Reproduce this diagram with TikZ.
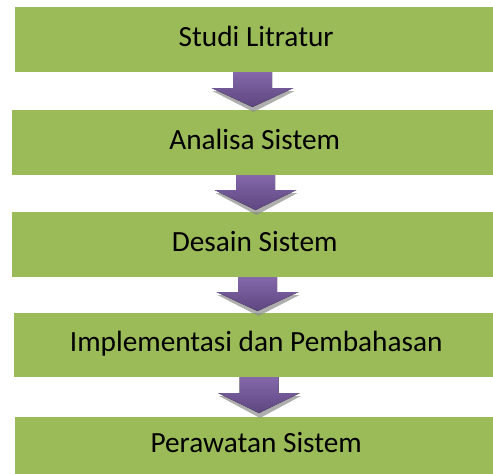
\documentclass[tikz,border=0pt]{standalone}
\usepackage{fontspec}
\setmainfont{Carlito}
\definecolor{boxgreen}{HTML}{9BBB59}
\definecolor{arrtop}{HTML}{8468AA}
\definecolor{arrbot}{HTML}{5E4680}
\tikzset{
  stepbox/.style={rectangle, fill=boxgreen, draw=none, inner sep=0pt, anchor=north west,
    font=\fontsize{29.3}{35}\selectfont, text=black, text height=20pt, text depth=7pt},
  downarrow/.style={top color=arrtop, bottom color=arrbot, draw=none},
  arrshadow/.style={fill=black!45, opacity=0.7, draw=none}
}
\newcommand{\flowarr}[4]{% x, top y, head top y, tip y
  \fill[arrshadow] (#1-40,#3+3) -- (#1+42,#3+3) -- (#1+1,#4+5) -- cycle;
  \fill[downarrow] (#1-19.5,#2) -- (#1+19.5,#2) -- (#1+19.5,#3) -- (#1+41,#3)
     -- (#1,#4) -- (#1-41,#3) -- (#1-19.5,#3) -- cycle;
}
\begin{document}
\begin{tikzpicture}[x=1pt,y=-1pt]
\useasboundingbox (0,0) rectangle (493,474);
\fill[white] (0,0) rectangle (493,474);
\node[stepbox, minimum width=478pt, minimum height=65pt] (b1) at (15,7) {\hspace*{4pt}Studi Litratur};
\node[stepbox, minimum width=481pt, minimum height=65pt] (b2) at (12,110) {\hspace*{4pt}Analisa Sistem};
\node[stepbox, minimum width=481pt, minimum height=65pt] (b3) at (12,212) {\hspace*{4pt}Desain Sistem};
\node[stepbox, minimum width=479pt, minimum height=64pt] (b4) at (14,313) {\hspace*{5pt}Implementasi dan Pembahasan};
\node[stepbox, minimum width=478pt, minimum height=57pt] (b5) at (15,417) {\hspace*{4pt}Perawatan Sistem};
\flowarr{252.5}{72}{88}{107}
\flowarr{255.5}{175}{190}{210}
\flowarr{257.5}{277}{292}{311}
\flowarr{259}{377}{393}{413}
\end{tikzpicture}
\end{document}
